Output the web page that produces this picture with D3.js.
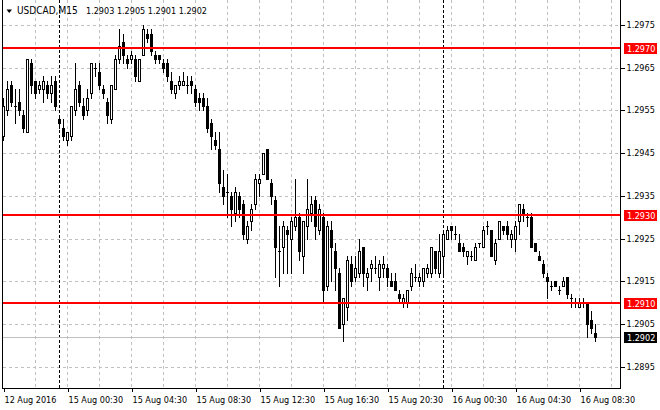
<!DOCTYPE html>
<html>
<head>
<meta charset="utf-8">
<script src="https://cdn.jsdelivr.net/npm/d3@7"></script>
<style>
  html, body { margin: 0; padding: 0; background: #fff; }
  svg { display: block; }
</style>
</head>
<body>
<div id="chart"></div>
<script>
// USDCAD M15, 12 Aug 2016 20:30 .. 16 Aug 2016 08:30
const symbolName = "USDCAD,M15";

const openPrices = [
  1.2949, 1.2955, 1.2961, 1.2956, 1.2957, 1.2954, 1.2950, 1.2966, 1.2962, 1.2960,
  1.2960, 1.2961, 1.2959, 1.2962, 1.2953, 1.2951, 1.2948, 1.2949, 1.2955, 1.2961,
  1.2956, 1.2955, 1.2959, 1.2965, 1.2964, 1.2960, 1.2957, 1.2953, 1.2960, 1.2967,
  1.2971, 1.2967, 1.2967, 1.2967, 1.2962, 1.2968, 1.2973, 1.2973, 1.2968, 1.2968,
  1.2966, 1.2966, 1.2962, 1.2959, 1.2961, 1.2961, 1.2961, 1.2962, 1.2960, 1.2958,
  1.2958, 1.2956, 1.2952, 1.2948, 1.2946, 1.2937, 1.2936, 1.2935, 1.2931, 1.2935,
  1.2933, 1.2925, 1.2929, 1.2933, 1.2938, 1.2940, 1.2946, 1.2938, 1.2934, 1.2922,
  1.2923, 1.2927, 1.2925, 1.2928, 1.2930, 1.2921, 1.2928, 1.2931, 1.2934, 1.2927,
  1.2930, 1.2914, 1.2927, 1.2922, 1.2917, 1.2905, 1.2909, 1.2919, 1.2916, 1.2917,
  1.2923, 1.2916, 1.2918, 1.2918, 1.2916, 1.2918, 1.2918, 1.2915, 1.2915, 1.2912,
  1.2910, 1.2910, 1.2914, 1.2916, 1.2915, 1.2915, 1.2917, 1.2917, 1.2922, 1.2917,
  1.2921, 1.2925, 1.2928, 1.2926, 1.2924, 1.2923, 1.2921, 1.2921, 1.2920, 1.2924,
  1.2923, 1.2928, 1.2927, 1.2920, 1.2925, 1.2928, 1.2928, 1.2925, 1.2925, 1.2929,
  1.2932, 1.2930, 1.2930, 1.2924, 1.2921, 1.2919, 1.2916, 1.2914, 1.2915, 1.2913,
  1.2914, 1.2916, 1.2911, 1.2910, 1.2909, 1.2910, 1.2910, 1.2906, 1.2903
];
const highPrices = [
  1.2958, 1.2962, 1.2962, 1.2960, 1.2960, 1.2955, 1.2967, 1.2967, 1.2962, 1.2962,
  1.2963, 1.2962, 1.2963, 1.2963, 1.2954, 1.2953, 1.2950, 1.2956, 1.2966, 1.2962,
  1.2958, 1.2960, 1.2966, 1.2966, 1.2966, 1.2961, 1.2958, 1.2961, 1.2968, 1.2974,
  1.2973, 1.2968, 1.2969, 1.2968, 1.2967, 1.2975, 1.2974, 1.2974, 1.2969, 1.2968,
  1.2967, 1.2967, 1.2964, 1.2961, 1.2963, 1.2964, 1.2963, 1.2963, 1.2961, 1.2959,
  1.2959, 1.2958, 1.2953, 1.2950, 1.2950, 1.2941, 1.2940, 1.2936, 1.2937, 1.2936,
  1.2934, 1.2929, 1.2933, 1.2940, 1.2940, 1.2945, 1.2946, 1.2939, 1.2935, 1.2928,
  1.2929, 1.2928, 1.2930, 1.2939, 1.2931, 1.2929, 1.2939, 1.2935, 1.2935, 1.2933,
  1.2931, 1.2929, 1.2929, 1.2924, 1.2918, 1.2911, 1.2921, 1.2921, 1.2921, 1.2925,
  1.2923, 1.2918, 1.2920, 1.2921, 1.2920, 1.2921, 1.2919, 1.2917, 1.2917, 1.2913,
  1.2912, 1.2913, 1.2918, 1.2919, 1.2917, 1.2918, 1.2919, 1.2923, 1.2922, 1.2926,
  1.2927, 1.2928, 1.2928, 1.2928, 1.2926, 1.2924, 1.2922, 1.2922, 1.2924, 1.2924,
  1.2928, 1.2929, 1.2927, 1.2925, 1.2929, 1.2928, 1.2929, 1.2927, 1.2929, 1.2933,
  1.2933, 1.2931, 1.2931, 1.2924, 1.2922, 1.2920, 1.2917, 1.2915, 1.2915, 1.2914,
  1.2916, 1.2916, 1.2912, 1.2911, 1.2911, 1.2911, 1.2910, 1.2908, 1.2905
];
const lowPrices = [
  1.2948, 1.2954, 1.2956, 1.2952, 1.2954, 1.2950, 1.2950, 1.2959, 1.2958, 1.2959,
  1.2957, 1.2958, 1.2957, 1.2955, 1.2951, 1.2948, 1.2947, 1.2948, 1.2954, 1.2956,
  1.2953, 1.2954, 1.2958, 1.2963, 1.2960, 1.2958, 1.2952, 1.2952, 1.2960, 1.2966,
  1.2966, 1.2965, 1.2966, 1.2962, 1.2962, 1.2968, 1.2971, 1.2968, 1.2966, 1.2966,
  1.2964, 1.2962, 1.2959, 1.2958, 1.2960, 1.2961, 1.2959, 1.2959, 1.2956, 1.2955,
  1.2955, 1.2950, 1.2946, 1.2946, 1.2936, 1.2933, 1.2930, 1.2928, 1.2929, 1.2930,
  1.2925, 1.2924, 1.2927, 1.2932, 1.2935, 1.2940, 1.2939, 1.2933, 1.2916, 1.2914,
  1.2917, 1.2917, 1.2917, 1.2927, 1.2920, 1.2917, 1.2925, 1.2929, 1.2925, 1.2926,
  1.2910, 1.2913, 1.2915, 1.2913, 1.2904, 1.2901, 1.2906, 1.2914, 1.2915, 1.2916,
  1.2914, 1.2913, 1.2915, 1.2917, 1.2913, 1.2916, 1.2914, 1.2914, 1.2913, 1.2910,
  1.2909, 1.2909, 1.2913, 1.2915, 1.2914, 1.2914, 1.2916, 1.2916, 1.2917, 1.2916,
  1.2916, 1.2925, 1.2925, 1.2925, 1.2922, 1.2921, 1.2919, 1.2920, 1.2920, 1.2923,
  1.2923, 1.2926, 1.2921, 1.2919, 1.2925, 1.2926, 1.2925, 1.2923, 1.2922, 1.2926,
  1.2929, 1.2928, 1.2923, 1.2922, 1.2920, 1.2916, 1.2911, 1.2913, 1.2914, 1.2912,
  1.2914, 1.2911, 1.2909, 1.2909, 1.2909, 1.2909, 1.2902, 1.2903, 1.2901
];
const closePrices = [
  1.2956, 1.2960, 1.2957, 1.2956, 1.2955, 1.2951, 1.2967, 1.2961, 1.2959, 1.2961,
  1.2962, 1.2959, 1.2961, 1.2956, 1.2952, 1.2949, 1.2950, 1.2956, 1.2960, 1.2957,
  1.2954, 1.2958, 1.2966, 1.2965, 1.2961, 1.2959, 1.2954, 1.2961, 1.2967, 1.2970,
  1.2968, 1.2966, 1.2968, 1.2963, 1.2967, 1.2974, 1.2972, 1.2969, 1.2967, 1.2967,
  1.2965, 1.2963, 1.2960, 1.2961, 1.2962, 1.2962, 1.2961, 1.2961, 1.2957, 1.2957,
  1.2956, 1.2951, 1.2949, 1.2947, 1.2938, 1.2935, 1.2936, 1.2932, 1.2936, 1.2932,
  1.2926, 1.2928, 1.2932, 1.2939, 1.2939, 1.2945, 1.2939, 1.2935, 1.2923, 1.2922,
  1.2928, 1.2926, 1.2929, 1.2930, 1.2922, 1.2929, 1.2932, 1.2933, 1.2928, 1.2932,
  1.2913, 1.2928, 1.2923, 1.2918, 1.2904, 1.2911, 1.2920, 1.2915, 1.2918, 1.2922,
  1.2917, 1.2917, 1.2919, 1.2918, 1.2919, 1.2919, 1.2916, 1.2914, 1.2913, 1.2911,
  1.2911, 1.2913, 1.2917, 1.2916, 1.2916, 1.2918, 1.2918, 1.2923, 1.2918, 1.2922,
  1.2926, 1.2927, 1.2927, 1.2926, 1.2922, 1.2922, 1.2922, 1.2921, 1.2923, 1.2924,
  1.2927, 1.2928, 1.2921, 1.2924, 1.2929, 1.2927, 1.2926, 1.2926, 1.2928, 1.2933,
  1.2931, 1.2930, 1.2923, 1.2922, 1.2920, 1.2917, 1.2915, 1.2914, 1.2914, 1.2913,
  1.2915, 1.2912, 1.2911, 1.2910, 1.2910, 1.2910, 1.2905, 1.2904, 1.2902
];

const priceTicks = [1.2895, 1.2905, 1.2915, 1.2925, 1.2935, 1.2945, 1.2955, 1.2965, 1.2975];
const timeLabels = ["12 Aug 2016", "15 Aug 00:30", "15 Aug 04:30", "15 Aug 08:30", "15 Aug 12:30",
                    "15 Aug 16:30", "15 Aug 20:30", "16 Aug 00:30", "16 Aug 04:30", "16 Aug 08:30"];
const timeLabelBars = [0, 16, 32, 48, 64, 80, 96, 112, 128, 144];
const daySeparatorBars = [14, 110];          // 15 Aug 00:00, 16 Aug 00:00
const levelPrices = [1.29696, 1.29304, 1.2910]; // horizontal lines drawn on the chart

const width = 660, height = 410;
const plotRight = 620, plotBottom = 388;
const fontFamily = '"DejaVu Sans Condensed", "Liberation Sans", sans-serif';
const fmt = d3.format(".4f");
const n = openPrices.length;
const lastClose = closePrices[n - 1];

const bars = d3.range(n).map(i => ({
  i, o: openPrices[i], h: highPrices[i], l: lowPrices[i], c: closePrices[i]
}));

const x = d3.scaleLinear().domain([0, n - 1]).range([3.5, 3.5 + 4 * (n - 1)]);
const y = d3.scaleLinear().domain([1.2895, 1.2975]).range([366.7, 25]);
const row = p => Math.round(y(p));

const svg = d3.select("#chart").append("svg")
  .attr("width", width).attr("height", height)
  .attr("viewBox", `0 0 ${width} ${height}`)
  .style("font-family", fontFamily)
  .style("font-size", "9px");

svg.append("rect").attr("width", width).attr("height", height).attr("fill", "#fff");

// grid
const grid = svg.append("g").attr("shape-rendering", "crispEdges");
grid.selectAll("line.h").data(priceTicks).enter().append("line")
  .attr("x1", 3).attr("x2", plotRight)
  .attr("y1", d => row(d) + 0.5).attr("y2", d => row(d) + 0.5)
  .attr("stroke", "#c0c0c0").attr("stroke-dasharray", "3,3");
grid.selectAll("line.v").data(d3.range(8, 160, 8)).enter().append("line")
  .attr("x1", d => x(d)).attr("x2", d => x(d))
  .attr("y1", 0).attr("y2", plotBottom)
  .attr("stroke", "#c0c0c0").attr("stroke-dasharray", "3,3");

// period separators
grid.selectAll("line.sep").data(daySeparatorBars).enter().append("line")
  .attr("x1", d => x(d)).attr("x2", d => x(d))
  .attr("y1", 0).attr("y2", plotBottom)
  .attr("stroke", "#000").attr("stroke-dasharray", "3,2");

// current price line
grid.append("line")
  .attr("x1", 3).attr("x2", plotRight)
  .attr("y1", row(lastClose) + 0.5).attr("y2", row(lastClose) + 0.5)
  .attr("stroke", "#c0c0c0");

// candles
const candles = svg.append("g").attr("shape-rendering", "crispEdges")
  .selectAll("g").data(bars).enter().append("g");

candles.each(function (d) {
  const g = d3.select(this);
  const cx = x(d.i);
  const top = row(Math.max(d.o, d.c)), bot = row(Math.min(d.o, d.c));
  g.append("line")
    .attr("x1", cx).attr("x2", cx)
    .attr("y1", row(d.h)).attr("y2", row(d.l) + 1)
    .attr("stroke", "#000");
  if (top === bot) {
    g.append("rect").attr("x", cx - 1.5).attr("y", top).attr("width", 3).attr("height", 1).attr("fill", "#000");
  } else if (d.c > d.o) {
    g.append("rect").attr("x", cx - 1).attr("y", top + 0.5).attr("width", 2).attr("height", bot - top)
      .attr("fill", "#fff").attr("stroke", "#000");
  } else {
    g.append("rect").attr("x", cx - 1.5).attr("y", top).attr("width", 3).attr("height", bot - top + 1)
      .attr("fill", "#000");
  }
});

// horizontal level lines
svg.append("g").attr("shape-rendering", "crispEdges")
  .selectAll("line").data(levelPrices).enter().append("line")
  .attr("x1", 3).attr("x2", plotRight)
  .attr("y1", d => row(d)).attr("y2", d => row(d))
  .attr("stroke", "#ff0000").attr("stroke-width", 2);

// frame
svg.append("path")
  .attr("d", `M2.5,0V${plotBottom + 0.5}H${plotRight + 0.5}V0`)
  .attr("fill", "none").attr("stroke", "#000").attr("shape-rendering", "crispEdges");

// price axis
const yAxis = svg.append("g")
  .attr("transform", `translate(${plotRight + 0.5},0)`)
  .call(d3.axisRight(y).tickValues(priceTicks).tickFormat(fmt).tickSize(4).tickPadding(2));
yAxis.select(".domain").remove();
yAxis.selectAll(".tick").attr("transform", d => `translate(0,${row(d) + 0.5})`);
yAxis.selectAll("line").attr("stroke", "#000").attr("shape-rendering", "crispEdges");
yAxis.selectAll("text").attr("font-family", fontFamily).attr("font-size", 9).attr("fill", "#000");

// time axis
const xAxis = svg.append("g")
  .attr("transform", `translate(0,${plotBottom + 0.5})`)
  .call(d3.axisBottom(x).tickValues(timeLabelBars)
    .tickFormat((d, i) => timeLabels[i]).tickSize(3).tickPadding(5));
xAxis.select(".domain").remove();
xAxis.selectAll("line").attr("stroke", "#000").attr("shape-rendering", "crispEdges");
xAxis.selectAll("text")
  .attr("text-anchor", "start").attr("x", 0.5)
  .attr("font-family", fontFamily).attr("font-size", 9).attr("fill", "#000");

// price tags on the axis
function priceTag(p, color) {
  const cy = row(p);
  const g = svg.append("g");
  g.append("rect").attr("x", 624).attr("y", cy - 5).attr("width", 33).attr("height", 11)
    .attr("fill", color).attr("shape-rendering", "crispEdges");
  g.append("text").attr("x", 627).attr("y", cy + 0.5).attr("dy", "0.35em")
    .attr("fill", "#fff").text(fmt(p));
}
levelPrices.forEach(p => priceTag(p, "#ff0000"));
priceTag(lastClose, "#000");

// header
svg.append("path").attr("d", "M6.5,9.5H12L9.25,13Z").attr("fill", "#000");
svg.append("text").attr("x", 17).attr("y", 14).style("font-size", "10px").text(symbolName);
svg.append("text").attr("x", 86).attr("y", 14)
  .text([openPrices[n - 1], highPrices[n - 1], lowPrices[n - 1], lastClose].map(fmt).join(" "));
</script>
</body>
</html>
